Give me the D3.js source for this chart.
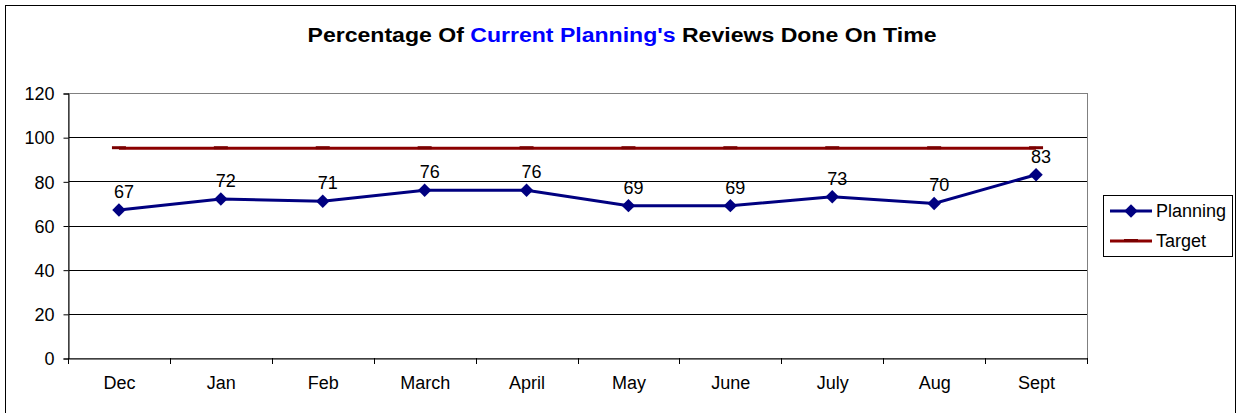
<!DOCTYPE html>
<html><head><meta charset="utf-8">
<script src="https://cdn.jsdelivr.net/npm/d3@7"></script>
<style>body{margin:0;background:#fff;} svg{display:block;font-family:Arial,"Liberation Sans",sans-serif;}</style>
</head><body>
<svg id="c" width="1238" height="413"></svg>
<script>
const categories = ["Dec","Jan","Feb","March","April","May","June","July","Aug","Sept"];
const planning = [67,72,71,76,76,69,69,73,70,83];
const target = [95,95,95,95,95,95,95,95,95,95];
const yTicks = [0,20,40,60,80,100,120];
const seriesNames = ["Planning","Target"];

const svg = d3.select("#c");
const plot = {l:68,r:1087,t:93,b:358};
const FS = "18px";
svg.append("rect").attr("x",5.5).attr("y",5.5).attr("width",1230).attr("height",420)
  .attr("fill","#fff").attr("stroke","#000").attr("stroke-width",1);

const x = d3.scaleBand().domain(categories).range([plot.l,plot.r]).padding(0);
const y = d3.scaleLinear().domain([0,120]).range([plot.b,plot.t]);

// gridlines
svg.append("g").selectAll("line").data(yTicks.filter(d=>d>0&&d<120)).join("line")
  .attr("x1",plot.l).attr("x2",plot.r).attr("y1",d=>Math.round(y(d))+0.5).attr("y2",d=>Math.round(y(d))+0.5)
  .attr("stroke","#000").attr("stroke-width",1);
// plot border (gray)
svg.append("rect").attr("x",plot.l+0.5).attr("y",plot.t+0.5).attr("width",plot.r-plot.l).attr("height",plot.b-plot.t)
  .attr("fill","none").attr("stroke","#808080").attr("stroke-width",1);

// y axis
const ya = svg.append("g").attr("transform",`translate(${plot.l+0.5},0.5)`)
  .call(d3.axisLeft(y).tickValues(yTicks).tickSize(5).tickPadding(9).tickFormat(d3.format("d")));
ya.select(".domain").attr("stroke","#000");
ya.selectAll("line").attr("stroke","#000");
ya.selectAll("text").attr("font-size",FS).attr("fill","#000").attr("font-family","Arial,'Liberation Sans',sans-serif").attr("dy","0.35em");

// x axis
const xa = svg.append("g").attr("transform",`translate(0.5,${plot.b+0.5})`)
  .call(d3.axisBottom(x).tickSize(0).tickPadding(18));
xa.select(".domain").attr("stroke","#000");
xa.selectAll("text").attr("font-size",FS).attr("fill","#000").attr("font-family","Arial,'Liberation Sans',sans-serif");
// tick marks at category boundaries
svg.append("g").selectAll("line").data(d3.range(categories.length+1)).join("line")
  .attr("x1",i=>Math.round(plot.l+i*x.bandwidth())+0.5).attr("x2",i=>Math.round(plot.l+i*x.bandwidth())+0.5)
  .attr("y1",plot.b).attr("y2",plot.b+6).attr("stroke","#000");

const cx = c=>x(c)+x.bandwidth()/2;

// target line
const line = d3.line().x((d,i)=>cx(categories[i])).y(d=>y(d));
svg.append("path").datum(target).attr("d",line).attr("fill","none").attr("stroke","#8B0000").attr("stroke-width",3);
svg.append("g").selectAll("line").data(target).join("line")
  .attr("x1",(d,i)=>cx(categories[i])-7).attr("x2",(d,i)=>cx(categories[i])+7)
  .attr("y1",d=>y(d)-0.5).attr("y2",d=>y(d)-0.5).attr("stroke","#7a0000").attr("stroke-width",3);

// planning line
svg.append("path").datum(planning).attr("d",line).attr("fill","none").attr("stroke","#000080").attr("stroke-width",3);
const diamond = d3.symbol().type(d3.symbolSquare).size(90);
svg.append("g").selectAll("path").data(planning).join("path")
  .attr("d",diamond).attr("transform",(d,i)=>`translate(${cx(categories[i])},${y(d)}) rotate(45)`)
  .attr("fill","#000080");
svg.append("g").selectAll("text").data(planning).join("text")
  .attr("x",(d,i)=>cx(categories[i])+5).attr("y",d=>y(d)-12)
  .attr("text-anchor","middle").attr("font-size",FS).attr("fill","#000").text(d=>d);

// title
const title = svg.append("text").attr("x",622).attr("y",42).attr("text-anchor","middle")
  .attr("font-size","20px").attr("font-weight","bold").attr("fill","#000")
  .attr("textLength",629).attr("lengthAdjust","spacingAndGlyphs");
title.append("tspan").text("Percentage Of ");
title.append("tspan").attr("fill","#0000FF").text("Current Planning's");
title.append("tspan").text(" Reviews Done On Time");

// legend
const lg = svg.append("g");
lg.append("rect").attr("x",1103.5).attr("y",195.5).attr("width",129).attr("height",61)
  .attr("fill","#fff").attr("stroke","#000");
const colors = ["#000080","#8B0000"];
seriesNames.forEach((n,i)=>{
  const yy = 211 + i*30;
  lg.append("line").attr("x1",1110).attr("x2",1152).attr("y1",yy).attr("y2",yy).attr("stroke",colors[i]).attr("stroke-width",3);
  if(i===0){
    lg.append("path").attr("d",diamond).attr("transform",`translate(1131,${yy}) rotate(45)`).attr("fill","#000080");
  } else {
    lg.append("line").attr("x1",1124).attr("x2",1138).attr("y1",yy-0.5).attr("y2",yy-0.5).attr("stroke","#7a0000").attr("stroke-width",3);
  }
  lg.append("text").attr("x",1156).attr("y",yy).attr("dy","0.35em").attr("font-size",FS).attr("fill","#000").text(n);
});
</script>
</body></html>
